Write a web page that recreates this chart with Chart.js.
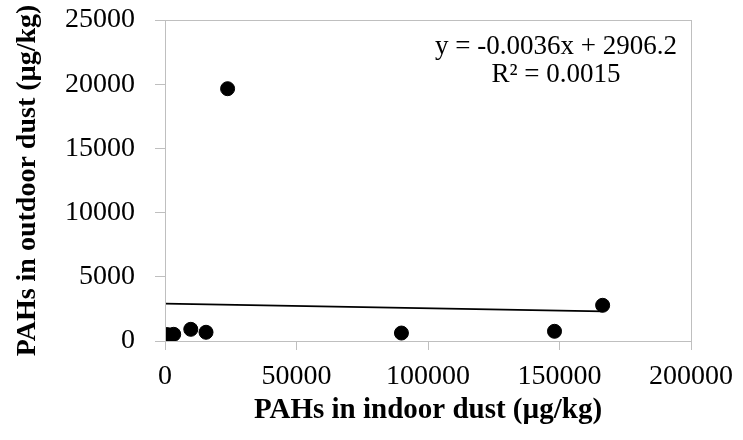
<!DOCTYPE html>
<html>
<head>
<meta charset="utf-8">
<script src="https://cdn.jsdelivr.net/npm/chart.js@4.4.0/dist/chart.umd.min.js"></script>
<style>
  html, body { margin: 0; padding: 0; background: #fff; }
  #wrap { width: 743px; height: 440px; position: relative; }
</style>
</head>
<body>
<div id="wrap"><canvas id="c"></canvas></div>
<script>
// values
const indoor  = [800, 2000, 3300, 9800, 15600, 23800, 89900, 148100, 166400];
const outdoor = [500, 450, 520, 910, 680, 19650, 620, 755, 2780];
const trendX = [0, 166400];
const trendY = [2906, 2307];
const yTicks = [0, 5000, 10000, 15000, 20000, 25000];
const xTicks = [0, 50000, 100000, 150000, 200000];
const eqLines = ['y = -0.0036x + 2906.2', 'R\u00b2 = 0.0015'];

const points = indoor.map((x, i) => ({ x: x, y: outdoor[i] }));
const trend = trendX.map((x, i) => ({ x: x, y: trendY[i] }));

const axisGrey = '#bfbfbf';
const serif = "'Liberation Serif', 'Times New Roman', serif";

const frame = {
  id: 'frame',
  afterDraw(chart) {
    const { ctx, chartArea: a } = chart;
    ctx.save();
    ctx.strokeStyle = axisGrey;
    ctx.lineWidth = 1;
    ctx.strokeRect(a.left + 0.5, a.top + 0.5, a.right - a.left, a.bottom - a.top);
    ctx.fillStyle = '#000';
    ctx.font = '27px ' + serif;
    ctx.textAlign = 'center';
    ctx.textBaseline = 'middle';
    const cx = a.right - 135;
    ctx.fillText(eqLines[0], cx, a.top + 27);
    ctx.fillText(eqLines[1], cx, a.top + 55);
    ctx.restore();
  }
};

new Chart(document.getElementById('c'), {
  type: 'scatter',
  data: {
    datasets: [{
      label: 'PAHs',
      data: points,
      backgroundColor: '#000',
      borderColor: '#000',
      pointRadius: 7,
      pointHoverRadius: 7
    }, {
      type: 'line',
      label: 'Linear',
      data: trend,
      borderColor: '#000',
      borderWidth: 1.8,
      pointRadius: 0,
      fill: false,
      tension: 0
    }]
  },
  options: {
    responsive: true,
    maintainAspectRatio: false,
    animation: false,
    layout: { padding: { top: 20, right: 52, left: 0, bottom: 0 } },
    plugins: {
      legend: { display: false },
      tooltip: { enabled: false }
    },
    scales: {
      x: {
        type: 'linear',
        min: 0,
        max: 200000,
        afterBuildTicks: (s) => { s.ticks = xTicks.map(v => ({ value: v })); },
        afterFit: (s) => { s.height = 99; s.paddingLeft = 0; s.paddingRight = 0; },
        grid: { drawOnChartArea: false, color: axisGrey, tickLength: 9 },
        border: { color: axisGrey },
        ticks: {
          color: '#000', padding: 10, maxRotation: 0,
          font: { family: serif, size: 28 },
          callback: (v) => String(v)
        },
        title: {
          display: true,
          text: 'PAHs in indoor dust (\u00b5g/kg)',
          color: '#000',
          padding: { top: 0, bottom: 12 },
          font: { family: serif, size: 29, weight: 'bold' }
        }
      },
      y: {
        type: 'linear',
        min: 0,
        max: 25000,
        afterBuildTicks: (s) => { s.ticks = yTicks.map(v => ({ value: v })); },
        afterFit: (s) => { s.width = 165; s.paddingTop = 0; s.paddingBottom = 0; },
        grid: { drawOnChartArea: false, color: axisGrey, tickLength: 10 },
        border: { color: axisGrey },
        ticks: {
          color: '#000', padding: 20,
          font: { family: serif, size: 28 },
          callback: (v) => String(v)
        },
        title: {
          display: true,
          text: 'PAHs in outdoor dust (\u00b5g/kg)',
          color: '#000',
          padding: { top: 11, bottom: 0 },
          font: { family: serif, size: 28, weight: 'bold' }
        }
      }
    }
  },
  plugins: [frame]
});
</script>
</body>
</html>
